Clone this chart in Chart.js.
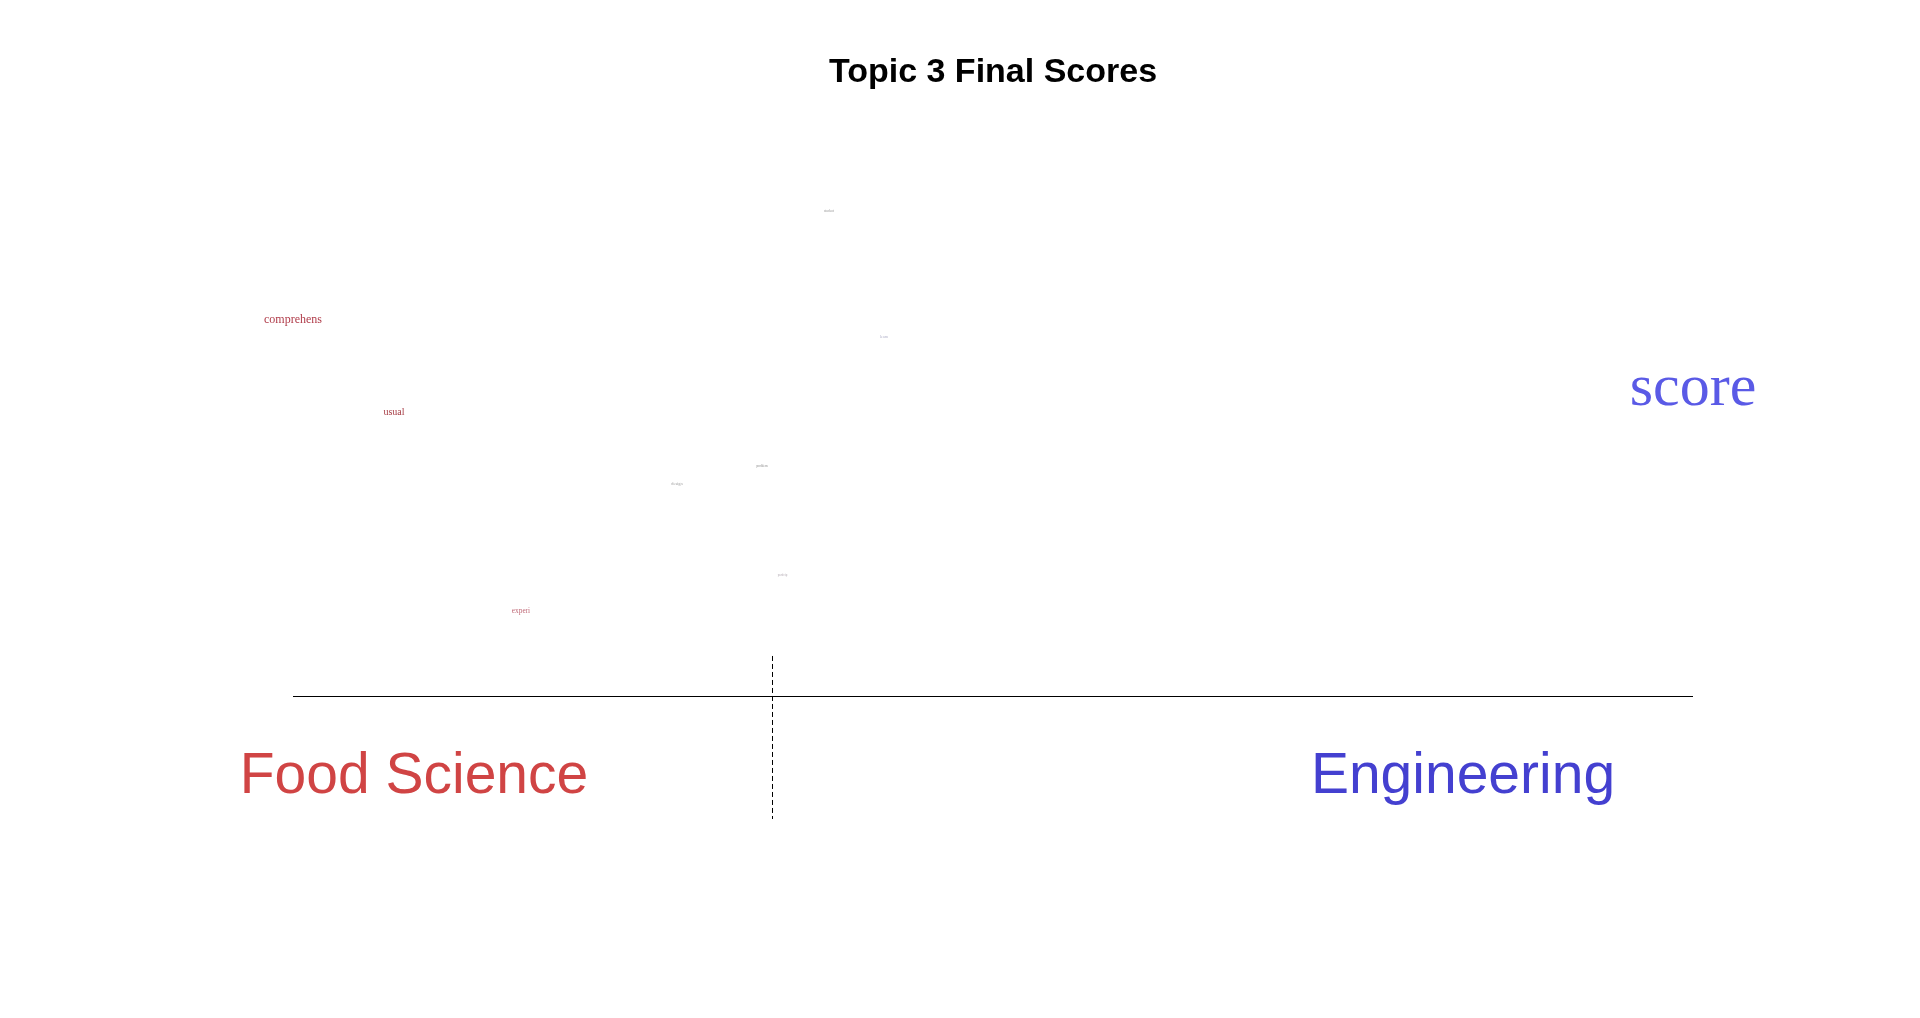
<!DOCTYPE html>
<html><head><meta charset="utf-8">
<script src="https://cdn.jsdelivr.net/npm/chart.js@4"></script>
<style>html,body{margin:0;padding:0;background:#fff;overflow:hidden}#wrap{width:1920px;height:1018px}</style>
</head><body><div id="wrap"><canvas id="c" width="1920" height="1018"></canvas></div>
<script>
// ---- data ----
const titleText = 'Topic 3 Final Scores';
const categories = ['Food Science', 'Engineering'];
const words       = ['comprehens', 'usual', 'experi', 'student', 'learn', 'problem', 'design', 'particip', 'score'];
const scoresX     = [-0.480, -0.379, -0.252, 0.056, 0.111, -0.011, -0.096, 0.0095, 0.920];
const scoresY     = [0.622, 0.468, 0.138, 0.806, 0.596, 0.382, 0.351, 0.200, 0.485];
const frequencies = [30, 25, 18.3, 8.75, 10, 8.25, 10.8, 8, 150];
// ---- style ----
const wordColors  = ['#b03c4a', '#a63c44', '#c06a78', '#9a9a9a', '#b0b0c8', '#8a8a8a', '#a0a0a0', '#b8b0b8', '#5a5ae6'];
const catColors   = ['#d04444', '#4440d0'];
const catPosX     = [-0.359, 0.690];
const catPosY     = -0.161;
const dashRange   = [0.0667, -0.205];
const SIZE_PER_FREQ = 0.4;
const SANS = '"Liberation Sans", Arial, Helvetica, sans-serif';
const SERIF = '"Liberation Serif", "Times New Roman", serif';

const points = words.map((w, i) => ({x: scoresX[i], y: scoresY[i]}));

const wordPlugin = {
  id: 'wordPlugin',
  afterDraw(chart) {
    const ctx = chart.ctx;
    const xs = chart.scales.x, ys = chart.scales.y;
    ctx.save();
    // baseline axis
    const y0 = Math.round(ys.getPixelForValue(0)) + 0.5;
    ctx.strokeStyle = '#000';
    ctx.lineWidth = 1;
    ctx.setLineDash([]);
    ctx.beginPath();
    ctx.moveTo(xs.getPixelForValue(Math.min(...scoresX)), y0);
    ctx.lineTo(xs.getPixelForValue(Math.max(...scoresX)), y0);
    ctx.stroke();
    // dashed zero line
    const x0 = Math.round(xs.getPixelForValue(0)) - 0.5;
    ctx.setLineDash([5, 3]);
    ctx.beginPath();
    ctx.moveTo(x0, ys.getPixelForValue(dashRange[0]));
    ctx.lineTo(x0, ys.getPixelForValue(dashRange[1]));
    ctx.stroke();
    ctx.setLineDash([]);
    // words
    const meta = chart.getDatasetMeta(0);
    ctx.textAlign = 'center';
    ctx.textBaseline = 'alphabetic';
    meta.data.forEach((el, i) => {
      ctx.font = (frequencies[i] * SIZE_PER_FREQ).toFixed(2) + 'px ' + SERIF;
      ctx.fillStyle = wordColors[i];
      ctx.fillText(words[i], el.x, el.y);
    });
    // category labels
    ctx.font = '57px ' + SANS;
    categories.forEach((c, i) => {
      ctx.fillStyle = catColors[i];
      ctx.fillText(c, xs.getPixelForValue(catPosX[i]), ys.getPixelForValue(catPosY));
    });
    // title
    ctx.font = 'bold 34px ' + SANS;
    ctx.fillStyle = '#000';
    ctx.fillText(titleText, (chart.chartArea.left + chart.chartArea.right) / 2, 82);
    ctx.restore();
  }
};

new Chart(document.getElementById('c'), {
  type: 'scatter',
  data: { datasets: [{ label: 'words', data: points, pointRadius: 0, pointHoverRadius: 0, showLine: false }] },
  options: {
    responsive: false,
    animation: false,
    devicePixelRatio: 1,
    layout: { padding: { left: 293, right: 227, top: 96, bottom: 322 } },
    plugins: { legend: { display: false }, title: { display: false }, tooltip: { enabled: false } },
    scales: {
      x: { type: 'linear', display: false, min: Math.min(...scoresX), max: Math.max(...scoresX) },
      y: { type: 'linear', display: false, min: 0, max: 1 }
    }
  },
  plugins: [wordPlugin]
});
</script>
</body></html>
